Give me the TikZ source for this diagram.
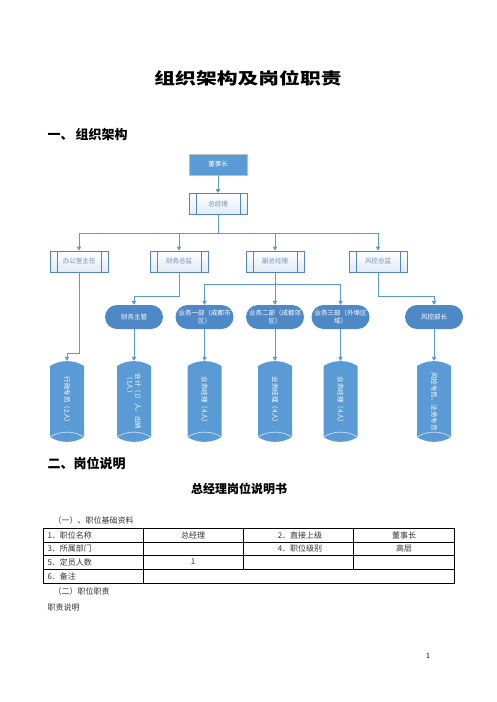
\documentclass[tikz,border=0pt]{standalone}
\usepackage{fontspec}
\setmainfont{Noto Sans CJK SC}
\usepackage{graphicx}
\usepackage{tikz}
\usetikzlibrary{arrows.meta}
\XeTeXlinebreaklocale "zh"

\definecolor{lineblue}{HTML}{5B9BD5}
\definecolor{boxgray}{HTML}{BFBFBF}
\definecolor{procblue}{HTML}{4F86C0}
\definecolor{procfill}{HTML}{E2EAF5}
\definecolor{proctext}{HTML}{6F8FBF}
\definecolor{darkblue}{HTML}{4E88C7}
\definecolor{cylblue}{HTML}{5B9BD5}
\definecolor{tabtext}{HTML}{333333}

\begin{document}
\begin{tikzpicture}[x=1pt, y=-1pt,
    conn/.style={lineblue, line width=0.8pt},
    arr/.style={conn, -{Triangle[length=4pt, width=4.5pt]}},
    topbox/.style={draw=boxgray, fill=lineblue, minimum width=58pt, minimum height=21pt,
        text=white, font=\fontsize{6.5}{7}\selectfont},
    procbox/.style={draw=procblue, line width=0.8pt, top color=white, bottom color=procfill,
        minimum width=58pt, minimum height=21pt, text=proctext, font=\fontsize{6.5}{7}\selectfont,
        path picture={
            \draw[procblue, line width=0.8pt] ([xshift=7pt]path picture bounding box.north west)
                -- ([xshift=7pt]path picture bounding box.south west);
            \draw[procblue, line width=0.8pt] ([xshift=-7pt]path picture bounding box.north east)
                -- ([xshift=-7pt]path picture bounding box.south east);
        }},
    rbox/.style={fill=darkblue, rounded corners=12pt, minimum width=58pt, minimum height=24pt,
        text width=54pt, align=center, inner sep=1pt, text=white, font=\fontsize{6.5}{8}\selectfont},
    cyl/.style={minimum width=34pt, minimum height=81pt, inner sep=0pt,
        path picture={
            \fill[cylblue] ([yshift=-5pt]path picture bounding box.north west)
                .. controls +(10pt,6.5pt) and +(-10pt,6.5pt) .. ([yshift=-5pt]path picture bounding box.north east)
                -- ([yshift=5pt]path picture bounding box.south east)
                .. controls +(-10pt,-6.5pt) and +(10pt,-6.5pt) .. ([yshift=5pt]path picture bounding box.south west)
                -- cycle;
            \draw[white!75!cylblue, line width=0.6pt] ([yshift=5pt]path picture bounding box.south west)
                .. controls +(10pt,6.5pt) and +(-10pt,6.5pt) .. ([yshift=5pt]path picture bounding box.south east);
        }},
    cyltext/.style={rotate=-90, text=white, align=left, font=\fontsize{6.5}{8}\selectfont},
    tab/.style={tabtext, font=\fontsize{8}{9}\selectfont},
    head/.style={anchor=west, font=\bfseries\fontsize{13}{14}\selectfont}
]
    \useasboundingbox (0,0) rectangle (496,702);

    % headings
    \node (title) at (248,78) {\bfseries\fontsize{16}{18}\selectfont\scalebox{1.3}[1]{组织架构及岗位职责}};
    \node[head] (h1) at (44,135) {一、\,组织架构};

    % org chart
    \node[topbox] (dsz) at (218,164.5) {董事长};
    \node[procbox] (zjl) at (218,204) {总经理};
    \node[procbox] (bgs) at (79,261.5) {办公室主任};
    \node[procbox] (cwzj) at (179,261.5) {财务总监};
    \node[procbox] (fzjl) at (275,261.5) {副总经理};
    \node[procbox] (fkzj) at (378,261.5) {风控总监};

    \node[rbox] (cwzg) at (134,317) {财务主管};
    \node[rbox] (yw1) at (204.5,317) {业务一部（成都市\\区）};
    \node[rbox] (yw2) at (275,317) {业务二部（成都郊\\区）};
    \node[rbox] (yw3) at (340.5,317) {业务三部（外埠区\\域）};
    \node[rbox] (fkbz) at (434,317) {风控部长};

    \node[cyl] (xz) at (67,401.5) {};
    \node[cyl] (kj) at (134,401.5) {};
    \node[cyl] (jl1) at (204.5,401.5) {};
    \node[cyl] (jl2) at (275,401.5) {};
    \node[cyl] (jl3) at (340.5,401.5) {};
    \node[cyl] (fkzy) at (434,401.5) {};
    \node[cyltext] (xzt) at (xz) {行政专员（2人）};
    \node[cyltext] (kjt) at (kj) {会计（1）人、出纳\\（1人）};
    \node[cyltext] (jl1t) at (jl1) {业务经理（4人）};
    \node[cyltext] (jl2t) at (jl2) {业务经理（4人）};
    \node[cyltext] (jl3t) at (jl3) {业务经理（4人）};
    \node[cyltext] (fkzyt) at (fkzy) {风控专员、法务专员};

    \draw[arr] (dsz) -- (zjl);
    \draw[conn] (zjl.south) -- ++(0,18) coordinate (bus1);
    \draw[arr] (bus1) -| (bgs.north);
    \draw[arr] (bus1) -| (cwzj.north);
    \draw[arr] (bus1) -| (fzjl.north);
    \draw[arr] (bus1) -| (fkzj.north);

    \draw[arr] (bgs.south) -- ++(0,81) -| (xz.north);
    \draw[arr] (cwzj.south) -- ++(0,24) -| (cwzg.north);
    \draw[conn] (fzjl.south) -- ++(0,12) coordinate (bus2);
    \draw[arr] (bus2) -| (yw1.north);
    \draw[arr] (bus2) -- (yw2.north);
    \draw[arr] (bus2) -| (yw3.north);
    \draw[arr] (fkzj.south) -- ++(0,24) -| (fkbz.north);

    \draw[arr] (cwzg) -- (kj);
    \draw[arr] (yw1) -- (jl1);
    \draw[arr] (yw2) -- (jl2);
    \draw[arr] (yw3) -- (jl3);
    \draw[arr] (fkbz) -- (fkzy);

    % job description
    \node[head] (h2) at (44,463) {二、岗位说明};
    \node (sub) at (239,489) {\bfseries\fontsize{12}{14}\selectfont 总经理岗位说明书};
    \node[tab, anchor=west] (p1) at (50,520) {（一）、职位基础资料};

    \draw[line width=0.8pt] (43,528) rectangle (454,583);
    \draw[line width=0.8pt] (43,542) -- (454,542) (43,555) -- (454,555) (43,569) -- (454,569);
    \draw[line width=0.8pt] (143,528) -- (143,583) (243,528) -- (243,569) (353,528) -- (353,569);

    \node[tab, anchor=west] (c11) at (44,535) {1．职位名称};
    \node[tab] (c12) at (193,535) {总经理};
    \node[tab] (c13) at (300,535) {2．直接上级};
    \node[tab] (c14) at (404,535) {董事长};
    \node[tab, anchor=west] (c21) at (44,548.5) {3．所属部门};
    \node[tab] (c23) at (300,548.5) {4．职位级别};
    \node[tab] (c24) at (404,548.5) {高层};
    \node[tab, anchor=west] (c31) at (44,562) {5．定员人数};
    \node[tab] (c32) at (193,562) {1};
    \node[tab, anchor=west] (c41) at (44,576) {6．备注};

    \node[tab, anchor=west] (p2) at (50,591) {（二）职位职责};
    \node[tab, anchor=west] (p3) at (44,607) {职责说明};
    \node[font=\fontsize{7}{8}\selectfont] (pg) at (428,656) {1};
\end{tikzpicture}
\end{document}
